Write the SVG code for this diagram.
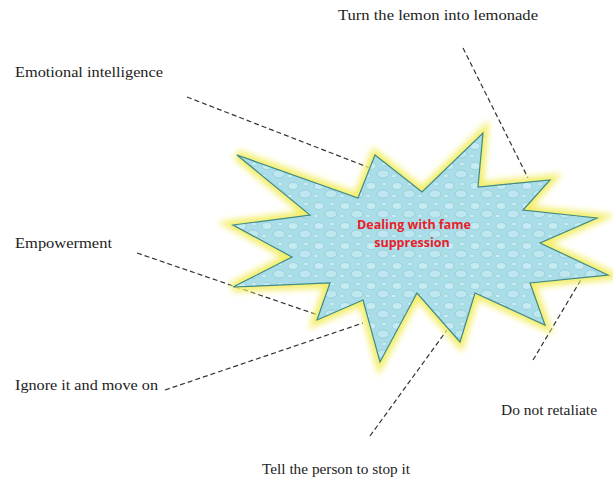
<svg xmlns="http://www.w3.org/2000/svg" width="613" height="478" viewBox="0 0 613 478">
<defs>
<style>
.lbl{font-family:"Liberation Serif","DejaVu Serif",serif;font-size:14px;fill:#222}
.dash{fill:none;stroke:#333;stroke-width:1.2;stroke-dasharray:5 3}
.ctr{font-family:"Open Sans","Liberation Sans",sans-serif;font-size:12.5px;font-weight:bold;fill:#e8202a;text-anchor:middle}
</style>
<filter id="glow" x="-10%" y="-10%" width="120%" height="120%">
<feGaussianBlur stdDeviation="3"/>
</filter>
<pattern id="drops" width="26" height="20" patternUnits="userSpaceOnUse">
<rect width="26" height="20" fill="#a9dde8"/>
<ellipse cx="7" cy="6" rx="5" ry="3.5" fill="#c6ebf2" stroke="#8cc6d4" stroke-width="0.6"/>
<ellipse cx="19" cy="14" rx="6" ry="4" fill="#bfe7f0" stroke="#86c0cf" stroke-width="0.6"/>
<ellipse cx="4" cy="16" rx="2.5" ry="1.8" fill="#caedf4" stroke="#90c9d6" stroke-width="0.5"/>
<ellipse cx="20" cy="4" rx="2.5" ry="1.8" fill="#caedf4" stroke="#90c9d6" stroke-width="0.5"/>
</pattern>
</defs>
<rect width="613" height="478" fill="#ffffff"/>
<g id="connectors">
<line class="dash" x1="187" y1="97" x2="370" y2="168"/>
<line class="dash" x1="463" y1="48" x2="528" y2="178"/>
<line class="dash" x1="137" y1="253" x2="318" y2="315"/>
<line class="dash" x1="165" y1="390" x2="363" y2="323"/>
<line class="dash" x1="370" y1="436" x2="447" y2="330"/>
<line class="dash" x1="533" y1="360" x2="585" y2="273"/>
</g>
<g id="center">
<polygon points="237,155 358,198 375,155 422,192 483,133 478,187 550,180 523,210 597,218 540,243 608,275 530,283 545,325 475,293 460,342 417,293 380,362 363,300 317,320 330,283 233,287 292,257 233,225 310,215" fill="#f3ee6a" stroke="#f3ee6a" stroke-width="10" stroke-linejoin="miter" filter="url(#glow)"/>
<polygon points="237,155 358,198 375,155 422,192 483,133 478,187 550,180 523,210 597,218 540,243 608,275 530,283 545,325 475,293 460,342 417,293 380,362 363,300 317,320 330,283 233,287 292,257 233,225 310,215" fill="url(#drops)" stroke="#3f8a86" stroke-width="1.2"/>
<text class="ctr" x="414" y="229">Dealing with fame</text>
<text class="ctr" x="412" y="247">suppression</text>
</g>
<g id="n-lemon"><text class="lbl" x="338" y="20" textLength="200" lengthAdjust="spacingAndGlyphs">Turn the lemon into lemonade</text></g>
<g id="n-emotional"><text class="lbl" x="15" y="77" textLength="148" lengthAdjust="spacingAndGlyphs">Emotional intelligence</text></g>
<g id="n-empower"><text class="lbl" x="15" y="248" textLength="97" lengthAdjust="spacingAndGlyphs">Empowerment</text></g>
<g id="n-ignore"><text class="lbl" x="15" y="390" textLength="143" lengthAdjust="spacingAndGlyphs">Ignore it and move on</text></g>
<g id="n-retaliate"><text class="lbl" x="501" y="415" textLength="96" lengthAdjust="spacingAndGlyphs">Do not retaliate</text></g>
<g id="n-tell"><text class="lbl" x="262" y="474" textLength="148" lengthAdjust="spacingAndGlyphs">Tell the person to stop it</text></g>
</svg>
